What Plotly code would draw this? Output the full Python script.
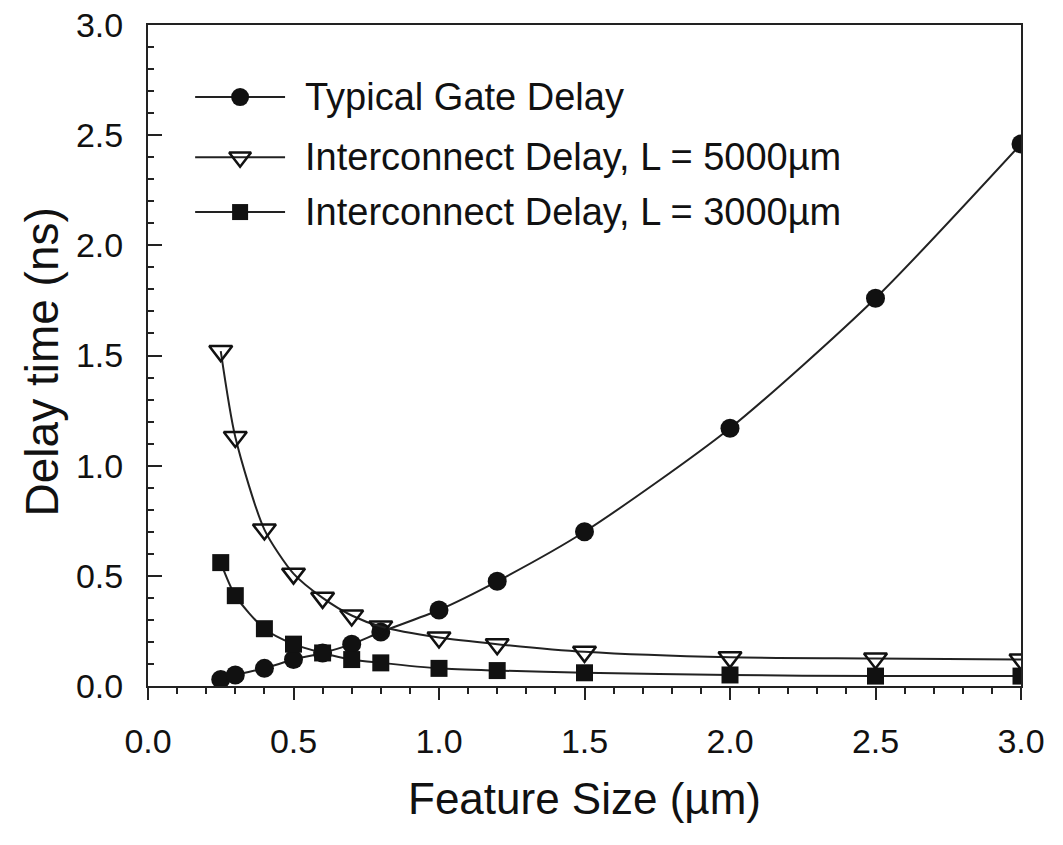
import plotly.graph_objects as go

# Feature size (um) and delay times (ns)
feature_size = [0.25, 0.3, 0.4, 0.5, 0.6, 0.7, 0.8, 1.0, 1.2, 1.5, 2.0, 2.5, 3.0]
gate_delay = [0.03, 0.05, 0.08, 0.12, 0.15, 0.19, 0.245, 0.345, 0.475, 0.70, 1.17, 1.76, 2.46]
interconnect_5000 = [1.52, 1.13, 0.71, 0.51, 0.40, 0.32, 0.27, 0.22, 0.19, 0.155, 0.13, 0.125, 0.12]
interconnect_3000 = [0.56, 0.41, 0.26, 0.19, 0.15, 0.12, 0.105, 0.08, 0.07, 0.06, 0.05, 0.045, 0.045]

series_names = [
    "Typical Gate Delay",
    "Interconnect Delay, L = 5000\u00b5m",
    "Interconnect Delay, L = 3000\u00b5m",
]

x_ticks = [0.0, 0.5, 1.0, 1.5, 2.0, 2.5, 3.0]
y_ticks = [0.0, 0.5, 1.0, 1.5, 2.0, 2.5, 3.0]

FONT = "Liberation Sans, Arial, sans-serif"
INK = "#111111"
LINE = "#222222"

markers = [
    dict(symbol="circle", size=19, color=INK),
    dict(symbol="triangle-down-open", size=20, color=INK, line=dict(width=2.5, color=INK)),
    dict(symbol="square", size=17, color=INK),
]

fig = go.Figure()

for name, values, marker in zip(series_names, [gate_delay, interconnect_5000, interconnect_3000], markers):
    fig.add_trace(go.Scatter(
        x=feature_size, y=values, name=name, showlegend=False,
        mode="lines+markers",
        line=dict(color=LINE, width=2, shape="spline", smoothing=0.7),
        marker=marker,
    ))

# Key drawn on an overlay axis spanning the plot area (0..1 both ways),
# with a long line sample and the marker centred on it.
key_rows = [0.891, 0.800, 0.717]
key_line_x = [0.054, 0.157]
key_text_x = 0.178
for name, row_y, marker in zip(series_names, key_rows, markers):
    fig.add_trace(go.Scatter(
        x=key_line_x, y=[row_y, row_y], xaxis="x2", yaxis="y2",
        mode="lines", line=dict(color=LINE, width=2),
        showlegend=False, hoverinfo="skip",
    ))
    fig.add_trace(go.Scatter(
        x=[sum(key_line_x) / 2], y=[row_y], xaxis="x2", yaxis="y2",
        mode="markers", marker={**marker, "size": marker["size"] - 1},
        showlegend=False, hoverinfo="skip",
    ))
    fig.add_annotation(
        x=key_text_x, y=row_y, xref="x2", yref="y2",
        text=name, showarrow=False, xanchor="left", yanchor="middle",
        font=dict(size=38, family=FONT, color=INK),
    )

# Vertical axis title, placed left of the tick labels
fig.add_annotation(
    x=-0.121, y=0.490, xref="paper", yref="paper",
    text="Delay time (ns)", textangle=-90, showarrow=False,
    xanchor="center", yanchor="middle",
    font=dict(size=46, family=FONT, color=INK),
)

axis_common = dict(
    range=[0, 3.0], showgrid=False, zeroline=False, automargin=False,
    showline=True, linecolor=LINE, linewidth=2, mirror=True,
    tickwidth=2, tickcolor=LINE,
    tickfont=dict(size=34, family=FONT, color=INK),
)

fig.update_layout(
    width=1063, height=845,
    margin=dict(l=148, r=42, t=25, b=159),
    plot_bgcolor="white", paper_bgcolor="white",
    font=dict(family=FONT, color=INK),
    showlegend=False,
    xaxis=dict(
        **axis_common,
        tickvals=x_ticks, ticktext=[f"{v:.1f}" for v in x_ticks],
        ticks="outside", ticklen=12,
        minor=dict(dtick=0.1, ticks="outside", ticklen=6, tickwidth=1.5, tickcolor=LINE, showgrid=False),
        ticklabelstandoff=12,
        title=dict(text="Feature Size (\u00b5m)", font=dict(size=44, family=FONT, color=INK), standoff=24),
    ),
    yaxis=dict(
        **axis_common,
        tickvals=y_ticks, ticktext=[f"{v:.1f}" for v in y_ticks],
        ticks="inside", ticklen=14,
        minor=dict(dtick=0.1, ticks="inside", ticklen=6, tickwidth=1.5, tickcolor=LINE, showgrid=False),
        ticklabelstandoff=16,
    ),
    xaxis2=dict(overlaying="x", range=[0, 1], visible=False),
    yaxis2=dict(overlaying="y", range=[0, 1], visible=False),
)

fig.write_html("out.html")
